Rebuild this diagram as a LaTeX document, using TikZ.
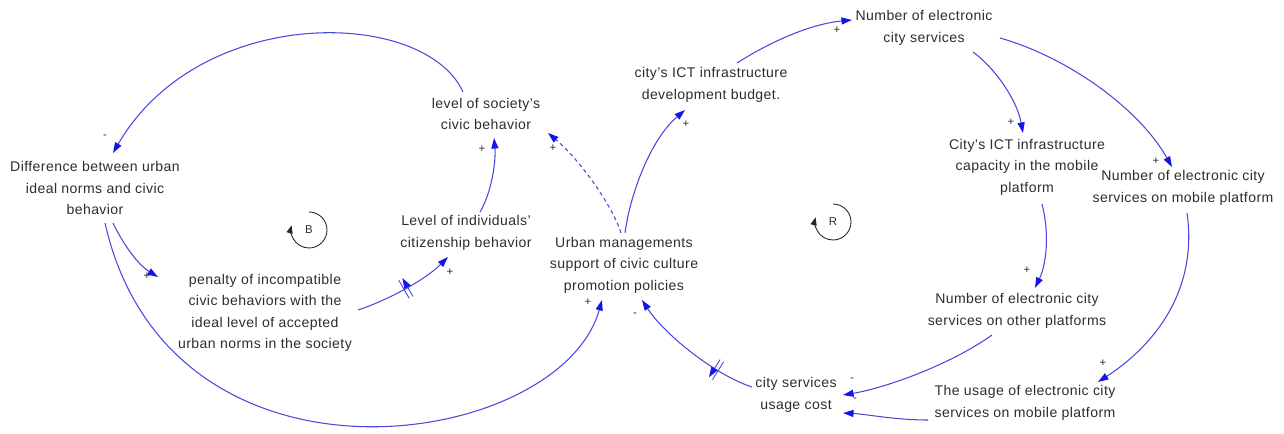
\documentclass[tikz,border=0pt]{standalone}
\usepackage{fontspec}
\newfontfamily\lblfont{Liberation Sans}[LetterSpace=3]
\usetikzlibrary{arrows.meta,decorations.markings}
\definecolor{lnblue}{RGB}{72,72,222}
\definecolor{arblue}{RGB}{20,20,235}
\definecolor{txt}{RGB}{45,45,45}
\begin{document}
\begin{tikzpicture}[x=0.02cm,y=-0.02cm,
  var/.style={align=center,font=\lblfont\fontsize{8}{12.2}\selectfont,text=txt,inner sep=1pt},
  pol/.style={font=\lblfont\fontsize{6.5}{7}\selectfont,text=txt,inner sep=0pt},
  loopname/.style={font=\lblfont\fontsize{6.5}{7}\selectfont,text=txt,inner sep=0pt},
  link/.style={draw=lnblue,line width=0.6pt,-{Triangle[length=6pt,width=4pt,color=arblue]}},
  weak/.style={dash pattern=on 2.2pt off 1.8pt},
  delaymark/.style={postaction={decorate,decoration={markings,
     mark=at position #1 with {\draw[lnblue,line width=0.5pt,solid] (-1.2pt,-6pt)--(-1.2pt,6pt) (1.2pt,-6pt)--(1.2pt,6pt);}}}},
  loopsym/.style={draw=black!85,line width=0.5pt,-{Triangle[length=4.5pt,width=3.5pt]}},
]
\useasboundingbox (0,0) rectangle (1284,433);

% variables
\node[var] (diff)   at (95,188)   {Difference between urban\\ideal norms and civic\\behavior};
\node[var] (soc)    at (486,114)  {level of society’s\\civic behavior};
\node[var] (indiv)  at (466,233)  {Level of individuals’\\citizenship behavior};
\node[var] (pen)    at (265,313)  {penalty of incompatible\\civic behaviors with the\\ideal level of accepted\\urban norms in the society};
\node[var] (urban)  at (624,265)  {Urban managements\\support of civic culture\\promotion policies};
\node[var] (budget) at (711,85)   {city’s ICT infrastructure\\development budget.};
\node[var] (num)    at (924,28)   {Number of electronic\\city services};
\node[var] (cap)    at (1027,167) {City’s ICT infrastructure\\capacity in the mobile\\platform};
\node[var] (mob)    at (1183,188) {Number of electronic city\\services on mobile platform};
\node[var] (other)  at (1017,311) {Number of electronic city\\services on other platforms};
\node[var] (cost)   at (796,395)  {city services\\usage cost};
\node[var] (usage)  at (1025,403) {The usage of electronic city\\services on mobile platform};

% causal links
\draw[link] ([shift={(-23,-22)}]soc.center) .. controls (425,8) and (200,3) .. ([shift={(18,-35)}]diff.center);
\draw[link] ([shift={(18,35)}]diff.center) .. controls (125,248) and (140,266) .. ([shift={(-107,-36)}]pen.center);
\draw[link] ([shift={(10,35)}]diff.center) .. controls (170,510) and (560,450) .. ([shift={(-22,35)}]urban.center);
\draw[link,delaymark=0.5] ([shift={(93,-3)}]pen.center) .. controls (388,300) and (425,280) .. ([shift={(-18,24)}]indiv.center);
\draw[link] ([shift={(14,-21)}]indiv.center) .. controls (492,192) and (496,160) .. ([shift={(8,24)}]soc.center);
\draw[link,weak] ([shift={(-3,-32)}]urban.center) .. controls (612,205) and (580,160) .. ([shift={(62,19)}]soc.center);
\draw[link] ([shift={(1,-32)}]urban.center) .. controls (630,195) and (650,140) .. ([shift={(-26,25)}]budget.center);
\draw[link] ([shift={(26,-22)}]budget.center) .. controls (770,42) and (810,24) .. ([shift={(-72,-8)}]num.center);
\draw[link] ([shift={(49,24)}]num.center) .. controls (995,68) and (1017,100) .. ([shift={(-4,-34)}]cap.center);
\draw[link] ([shift={(76,10)}]num.center) .. controls (1070,58) and (1140,110) .. ([shift={(-11,-21)}]mob.center);
\draw[link] ([shift={(15,37)}]cap.center) .. controls (1050,235) and (1046,265) .. ([shift={(18,-23)}]other.center);
\draw[link] ([shift={(4,25)}]mob.center) .. controls (1198,290) and (1155,345) .. ([shift={(73,-21)}]usage.center);
\draw[link] ([shift={(-25,24)}]other.center) .. controls (950,365) and (885,388) .. ([shift={(47,0)}]cost.center);
\draw[link] ([shift={(-97,17)}]usage.center) .. controls (895,420) and (865,414) .. ([shift={(47,18)}]cost.center);
\draw[link,delaymark=0.28] ([shift={(-44,-8)}]cost.center) .. controls (715,375) and (665,335) .. ([shift={(18,35)}]urban.center);

% link polarities
\node[pol] (s1)  at (105,137)  {-};
\node[pol] (s2)  at (147,276)  {+};
\node[pol] (s3)  at (588,302)  {+};
\node[pol] (s4)  at (450,272)  {+};
\node[pol] (s5)  at (482,149)  {+};
\node[pol] (s6)  at (553,148)  {+};
\node[pol] (s7)  at (686,124)  {+};
\node[pol] (s8)  at (837,30)   {+};
\node[pol] (s9)  at (1011,122) {+};
\node[pol] (s10) at (1156,161) {+};
\node[pol] (s11) at (1027,270) {+};
\node[pol] (s12) at (1103,363) {+};
\node[pol] (s13) at (852,380)  {-};
\node[pol] (s14) at (855,400)  {-};
\node[pol] (s15) at (635,315)  {-};

% loop identifiers
\node[loopname] (loopB) at (309,230) {B};
\node[loopname] (loopR) at (833,222) {R};
\draw[loopsym] ([shift={(90:0.36cm)}]loopB.center) arc[start angle=90,end angle=-195,radius=0.36cm];
\draw[loopsym] ([shift={(90:0.36cm)}]loopR.center) arc[start angle=90,end angle=-195,radius=0.36cm];
\end{tikzpicture}
\end{document}
